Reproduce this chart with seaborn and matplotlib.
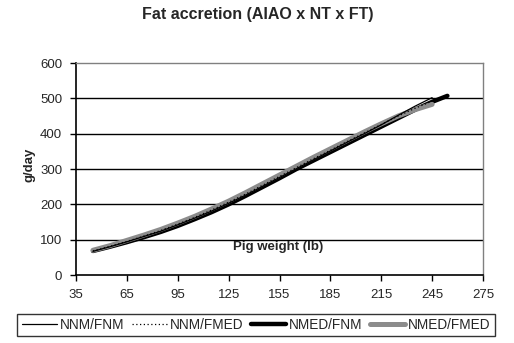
import matplotlib
matplotlib.use("Agg")
import matplotlib.pyplot as plt
import seaborn as sns
import pandas as pd

# Data
weight_a = [45, 55, 65, 75, 85, 95, 105, 115, 125, 135, 145, 155, 165, 175, 185, 195, 205, 215, 225, 235, 245]
nnm_fnm = [67, 80, 94, 109, 124, 142, 161, 181, 203, 226, 251, 276, 301, 326, 351, 376, 400, 425, 452, 478, 502]
nnm_fmed = [68, 81, 95, 110, 126, 144, 163, 184, 206, 229, 254, 279, 304, 329, 353, 378, 402, 426, 450, 472, 492]
weight_b = [45, 55, 65, 75, 85, 95, 105, 115, 125, 135, 145, 155, 165, 175, 185, 195, 205, 215, 225, 235, 245, 254]
nmed_fnm = [68, 80, 93, 107, 122, 139, 158, 178, 200, 224, 249, 274, 300, 324, 348, 372, 396, 420, 444, 468, 490, 507]
nmed_fmed = [70, 83, 98, 113, 129, 147, 166, 187, 209, 233, 258, 283, 308, 333, 357, 381, 405, 428, 450, 468, 483]

series_names = ["NNM/FNM", "NNM/FMED", "NMED/FNM", "NMED/FMED"]
x_ticks = [35, 65, 95, 125, 155, 185, 215, 245, 275]
y_ticks = [0, 100, 200, 300, 400, 500, 600]

sns.set_style("white")
plt.rcParams['font.family'] = ['Liberation Sans', 'DejaVu Sans']

fig = plt.figure(figsize=(5.14, 3.43), dpi=100)
ax = fig.add_axes([76/514, 1-275/343, (483-76)/514, (275-63)/343])

for y in y_ticks[1:-1]:
    ax.axhline(y, color='black', lw=1.0, zorder=0)

sns.lineplot(x=weight_a, y=nnm_fnm, ax=ax, color='black', lw=0.9, label=series_names[0], zorder=3)
sns.lineplot(x=weight_a, y=nnm_fmed, ax=ax, color='black', lw=0.9, linestyle=(0, (1, 2)), label=series_names[1], zorder=3)
sns.lineplot(x=weight_b, y=nmed_fnm, ax=ax, color='black', lw=3.2, label=series_names[2], zorder=2)
sns.lineplot(x=weight_a, y=nmed_fmed, ax=ax, color='#8c8c8c', lw=3.6, label=series_names[3], zorder=2)

ax.set_xlim(35, 275)
ax.set_ylim(0, 600)
ax.set_xticks(x_ticks)
ax.set_yticks(y_ticks)
ax.tick_params(axis='both', which='both', direction='out', length=4, width=1, color='black',
               labelsize=9.5, pad=6, left=True, bottom=True)
for s in ['left', 'bottom']:
    ax.spines[s].set_color('black')
    ax.spines[s].set_linewidth(1.2)
for s in ['top', 'right']:
    ax.spines[s].set_color('#808080')
    ax.spines[s].set_linewidth(1.0)
ax.set_xlabel('')
ax.set_ylabel('')

ax.text(278/514, 1-247/343, 'Pig weight (lb)', transform=fig.transFigure, ha='center', va='center',
        fontsize=9.5, fontweight='bold')
fig.text(30/514, 1-165/343, 'g/day', rotation=90, ha='center', va='center', fontsize=9.5, fontweight='bold')
fig.text(258/514, 1-14/343, 'Fat accretion (AIAO x NT x FT)', ha='center', va='center',
         fontsize=11.5, fontweight='bold')

leg = ax.legend(loc='center', bbox_to_anchor=(256/514, 1-325/343), bbox_transform=fig.transFigure,
                ncol=4, fontsize=9.8, frameon=True, fancybox=False, handlelength=2.6,
                columnspacing=0.55, handletextpad=0.2, borderpad=0.3, borderaxespad=0)
leg.get_frame().set_edgecolor('black')
leg.get_frame().set_linewidth(1.0)

fig.savefig('out.png', dpi=100)
